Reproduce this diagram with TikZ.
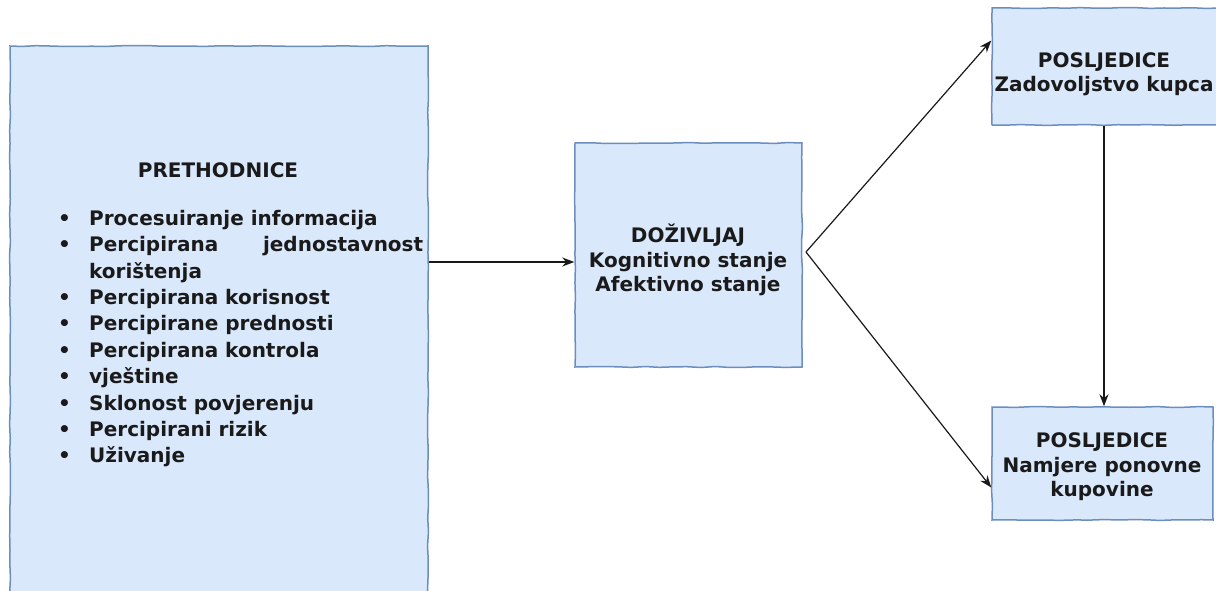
\documentclass[tikz,border=0pt]{standalone}
\usepackage{fontspec}
\setmainfont{DejaVu Sans}
\usetikzlibrary{arrows.meta,decorations.pathmorphing}
\definecolor{boxfill}{HTML}{DAE8FC}
\definecolor{boxline}{HTML}{6C8EBF}
\definecolor{txt}{HTML}{1A1A1A}
\begin{document}
\begin{tikzpicture}[x=1pt,y=-1pt,
  blockbox/.style={draw=boxline,fill=boxfill,line width=1.5pt,inner sep=0pt,
    decorate,decoration={random steps,segment length=14pt,amplitude=0.5pt}},
  lbl/.style={text=txt,font=\fontsize{20}{24.5}\selectfont\bfseries,align=center,inner sep=0pt},
  conn/.style={draw=black!90,line width=1.2pt,-{Stealth[length=12pt,width=9pt]}}]
\pgfmathsetseed{7}
\useasboundingbox (0,0) rectangle (1216,591);
\clip (0,0) rectangle (1216,591);
% boxes
\node[blockbox,minimum width=418pt,minimum height=556pt] (pre) at (219,324) {};
\node[blockbox,minimum width=227pt,minimum height=224pt] (dozi) at (688.5,255) {};
\node[blockbox,minimum width=228pt,minimum height=117pt] (pos1) at (1106,66.5) {};
\node[blockbox,minimum width=221pt,minimum height=113pt] (pos2) at (1102.5,463.5) {};
% texts
\node[lbl] (pretitle) at (218,170) {PRETHODNICE};
\node[lbl,anchor=north west,align=left,font=\fontsize{20}{26.4}\selectfont\bfseries] (prelist) at (58,210) {%
\makebox[31pt][l]{•}Procesuiranje informacija\\
\makebox[31pt][l]{•}\makebox[334pt][l]{Percipirana\hfill jednostavnost}\\
\hspace*{31pt}korištenja\\
\makebox[31pt][l]{•}Percipirana korisnost\\
\makebox[31pt][l]{•}Percipirane prednosti\\
\makebox[31pt][l]{•}Percipirana kontrola\\
\makebox[31pt][l]{•}vještine\\
\makebox[31pt][l]{•}Sklonost povjerenju\\
\makebox[31pt][l]{•}Percipirani rizik\\
\makebox[31pt][l]{•}Uživanje};
\node[lbl] (dozitxt) at (688,260) {DOŽIVLJAJ\\Kognitivno stanje\\Afektivno stanje};
\node[lbl] (pos1txt) at (1104,74) {POSLJEDICE\\Zadovoljstvo kupca};
\node[lbl] (pos2txt) at (1102,467) {POSLJEDICE\\Namjere ponovne\\kupovine};
% connectors
\coordinate (fork) at (806,252);
\draw[conn] (pre.east |- 0,262) -- (dozi.west |- 0,262);
\draw[conn] (fork) -- ([yshift=26pt]pos1.west);
\draw[conn] (fork) -- ([yshift=-24pt]pos2.west);
\draw[conn] ([xshift=-2pt]pos1.south) -- ([xshift=-2pt]pos1.south |- pos2.north);
\end{tikzpicture}
\end{document}
